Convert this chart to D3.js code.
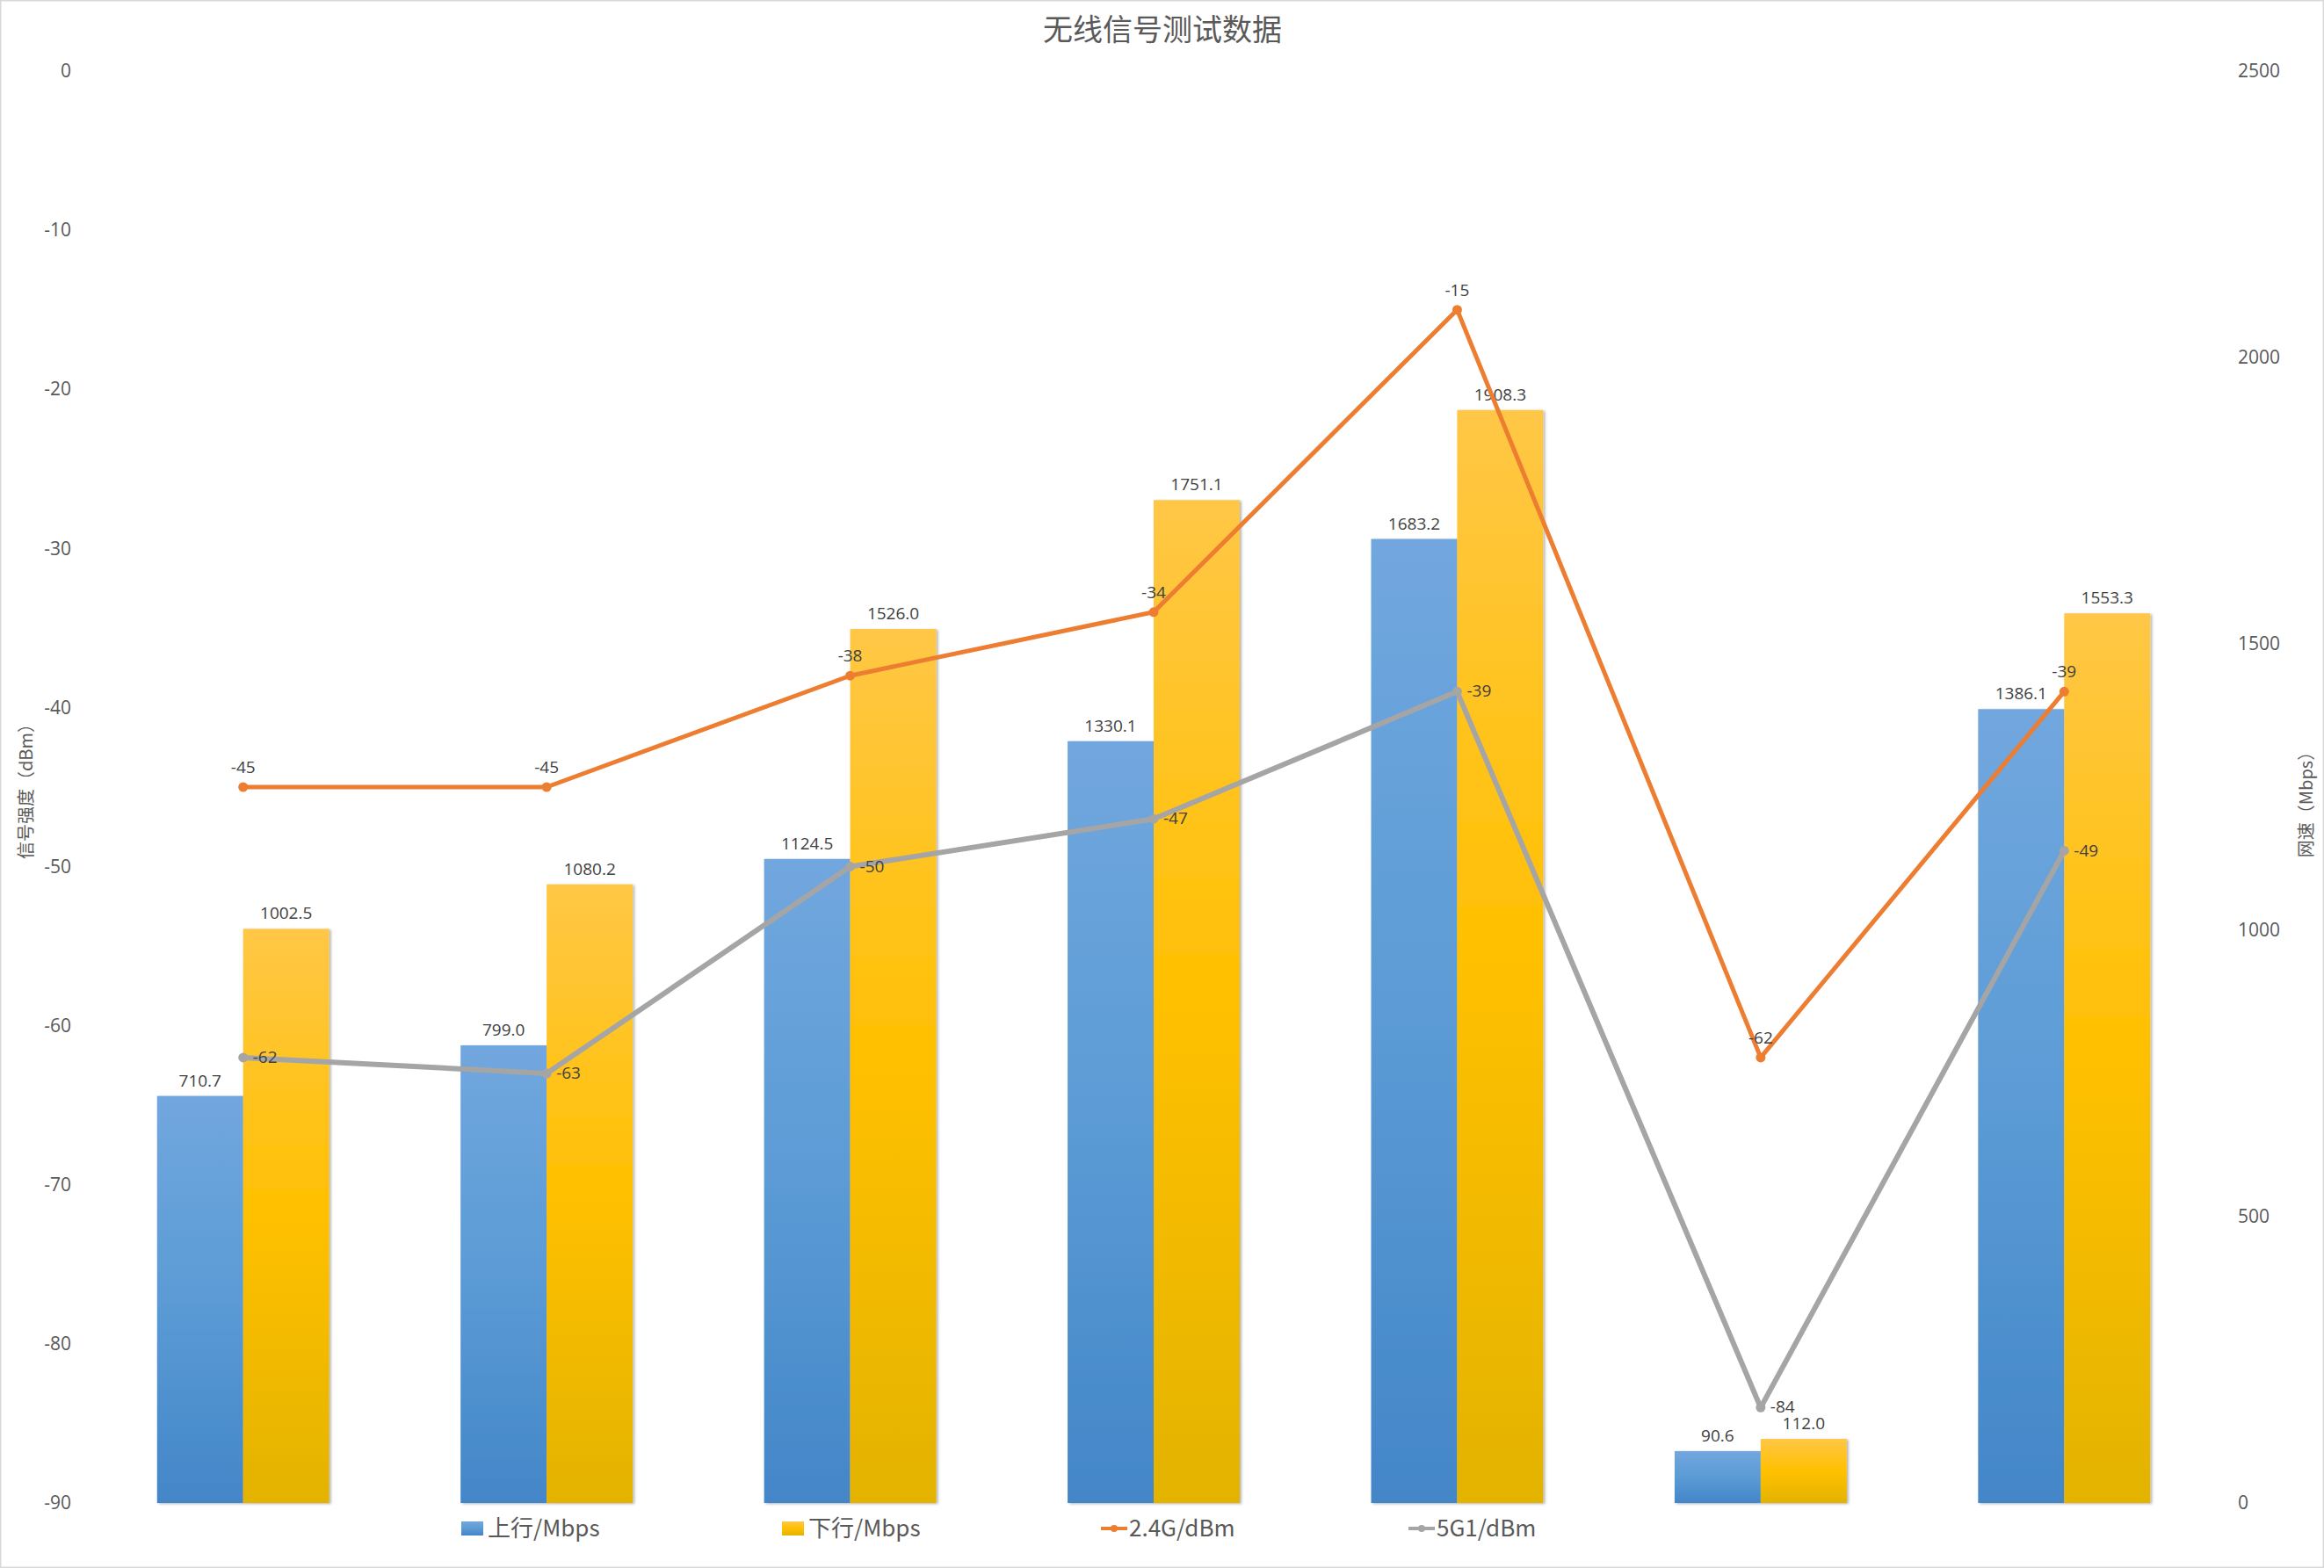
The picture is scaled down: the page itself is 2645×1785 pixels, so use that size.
<!DOCTYPE html>
<html>
<head>
<meta charset="utf-8">
<script src="https://cdn.jsdelivr.net/npm/d3@7"></script>
<style>
  body { margin: 0; background: #fff; }
  text { font-family: "Noto Sans CJK SC", "Open Sans", sans-serif; }
</style>
</head>
<body>
<div id="chart"></div>
<script>
// data
var categories = ["1", "2", "3", "4", "5", "6", "7"];
var upload = [710.7, 799.0, 1124.5, 1330.1, 1683.2, 90.6, 1386.1];
var download = [1002.5, 1080.2, 1526.0, 1751.1, 1908.3, 112.0, 1553.3];
var sig24 = [-45, -45, -38, -34, -15, -62, -39];
var sig5g = [-62, -63, -50, -47, -39, -84, -49];
var leftTicks = [0, -10, -20, -30, -40, -50, -60, -70, -80, -90];
var rightTicks = [0, 500, 1000, 1500, 2000, 2500];

var W = 2645, H = 1785;
var plot = { left: 104, right: 2522, top: 81, bottom: 1711 };

var svg = d3.select("#chart").append("svg")
    .attr("width", W)
    .attr("height", H);

var defs = svg.append("defs");

function grad(id, stops) {
    var g = defs.append("linearGradient")
        .attr("id", id)
        .attr("x1", 0).attr("y1", 0).attr("x2", 0).attr("y2", 1);
    stops.forEach(function (s) {
        g.append("stop").attr("offset", s[0]).attr("stop-color", s[1]);
    });
}
grad("gBlue", [[0, "#71a7de"], [0.5, "#5b9bd5"], [1, "#4386c8"]]);
grad("gYellow", [[0, "#ffc746"], [0.5, "#ffc000"], [1, "#e3b300"]]);

defs.append("filter")
    .attr("id", "shadow")
    .attr("x", "-10%").attr("y", "-10%").attr("width", "130%").attr("height", "120%")
    .append("feDropShadow")
    .attr("dx", 2).attr("dy", 1).attr("stdDeviation", 1.5)
    .attr("flood-color", "#000").attr("flood-opacity", 0.3);

// outer border
svg.append("rect")
    .attr("x", 0.75).attr("y", 0.75)
    .attr("width", W - 1.5).attr("height", H - 1.5)
    .attr("fill", "#fff")
    .attr("stroke", "#d9d9d9")
    .attr("stroke-width", 1.5);

var x = d3.scaleBand()
    .domain(categories)
    .range([plot.left, plot.right])
    .paddingInner(0.433)
    .paddingOuter(0.2165);

var xs = d3.scaleBand()
    .domain(["up", "down"])
    .range([0, x.bandwidth()]);

var yL = d3.scaleLinear().domain([-90, 0]).range([plot.bottom, plot.top]);
var yR = d3.scaleLinear().domain([0, 2500]).range([plot.bottom, plot.top]);

// axes (labels only)
var axL = svg.append("g")
    .attr("transform", "translate(" + plot.left + ",0)")
    .call(d3.axisLeft(yL).tickValues(leftTicks).tickFormat(String).tickSize(0).tickPadding(23));
var axR = svg.append("g")
    .attr("transform", "translate(" + plot.right + ",0)")
    .call(d3.axisRight(yR).tickValues(rightTicks).tickFormat(String).tickSize(0).tickPadding(25));
[axL, axR].forEach(function (a) {
    a.select(".domain").remove();
    a.selectAll("text")
        .attr("fill", "#595959")
        .style("font-size", "21px")
        .style("font-family", "'Open Sans', 'Noto Sans CJK SC', sans-serif");
});

// bars
var groups = svg.append("g").selectAll("g")
    .data(categories)
    .enter().append("g")
    .attr("transform", function (d) { return "translate(" + x(d) + ",0)"; });

var barSeries = [
    { key: "up", values: upload, fill: "url(#gBlue)" },
    { key: "down", values: download, fill: "url(#gYellow)" }
];

barSeries.forEach(function (s) {
    groups.append("rect")
        .attr("x", xs(s.key))
        .attr("width", xs.bandwidth())
        .attr("y", function (d, i) { return yR(s.values[i]); })
        .attr("height", function (d, i) { return plot.bottom - yR(s.values[i]); })
        .attr("fill", s.fill)
        .attr("filter", "url(#shadow)");
    groups.append("text")
        .attr("x", xs(s.key) + xs.bandwidth() / 2)
        .attr("y", function (d, i) { return yR(s.values[i]) - 11; })
        .attr("text-anchor", "middle")
        .attr("fill", "#404040")
        .style("font-size", "19px")
        .style("font-family", "'Open Sans', sans-serif")
        .text(function (d, i) { return s.values[i].toFixed(1); });
});

// lines
var cx = function (i) { return x(categories[i]) + x.bandwidth() / 2; };

var lineSeries = [
    { values: sig24, color: "#ed7d31", width: 5, label: "above" },
    { values: sig5g, color: "#a5a5a5", width: 6, label: "right" }
];

lineSeries.forEach(function (s) {
    var line = d3.line()
        .x(function (d, i) { return cx(i); })
        .y(function (d) { return yL(d); });
    svg.append("path")
        .datum(s.values)
        .attr("d", line)
        .attr("fill", "none")
        .attr("stroke", s.color)
        .attr("stroke-width", s.width)
        .attr("stroke-linejoin", "round");
    svg.append("g").selectAll("circle")
        .data(s.values)
        .enter().append("circle")
        .attr("cx", function (d, i) { return cx(i); })
        .attr("cy", function (d) { return yL(d); })
        .attr("r", 5.5)
        .attr("fill", s.color);
    svg.append("g").selectAll("text")
        .data(s.values)
        .enter().append("text")
        .attr("x", function (d, i) { return s.label === "above" ? cx(i) : cx(i) + 11; })
        .attr("y", function (d) { return s.label === "above" ? yL(d) - 16 : yL(d); })
        .attr("dy", s.label === "above" ? 0 : "0.32em")
        .attr("text-anchor", s.label === "above" ? "middle" : "start")
        .attr("fill", "#404040")
        .style("font-size", "19px")
        .style("font-family", "'Open Sans', sans-serif")
        .text(function (d) { return d; });
});

// title
svg.append("text")
    .attr("x", 1323)
    .attr("y", 46)
    .attr("text-anchor", "middle")
    .attr("fill", "#595959")
    .style("font-size", "34px")
    .text("无线信号测试数据");

// axis titles
svg.append("text")
    .attr("transform", "translate(37," + ((plot.top + plot.bottom) / 2) + ") rotate(-90)")
    .attr("text-anchor", "middle")
    .attr("fill", "#595959")
    .style("font-size", "20px")
    .text("信号强度（dBm）");
svg.append("text")
    .attr("transform", "translate(2632," + ((plot.top + plot.bottom) / 2 + 15) + ") rotate(-90)")
    .attr("text-anchor", "middle")
    .attr("fill", "#595959")
    .style("font-size", "20px")
    .text("网速（Mbps）");

// legend
var legendItems = [
    { name: "上行/Mbps", type: "rect", fill: "url(#gBlue)", x: 525 },
    { name: "下行/Mbps", type: "rect", fill: "url(#gYellow)", x: 890 },
    { name: "2.4G/dBm", type: "line", fill: "#ed7d31", x: 1253 },
    { name: "5G1/dBm", type: "line", fill: "#a5a5a5", x: 1603 }
];
var ly = 1740;
var lg = svg.append("g").selectAll("g")
    .data(legendItems)
    .enter().append("g")
    .attr("transform", function (d) { return "translate(" + d.x + "," + ly + ")"; });
lg.filter(function (d) { return d.type === "rect"; })
    .append("rect")
    .attr("x", 0).attr("y", -8)
    .attr("width", 25).attr("height", 16)
    .attr("fill", function (d) { return d.fill; });
lg.filter(function (d) { return d.type === "line"; })
    .append("line")
    .attr("x1", 0).attr("x2", 30)
    .attr("stroke", function (d) { return d.fill; })
    .attr("stroke-width", 4);
lg.filter(function (d) { return d.type === "line"; })
    .append("circle")
    .attr("cx", 15).attr("r", 4)
    .attr("fill", function (d) { return d.fill; });
lg.append("text")
    .attr("x", function (d) { return d.type === "rect" ? 30 : 32; })
    .attr("dy", "0.36em")
    .attr("fill", "#595959")
    .style("font-size", "26px")
    .text(function (d) { return d.name; });
</script>
</body>
</html>
